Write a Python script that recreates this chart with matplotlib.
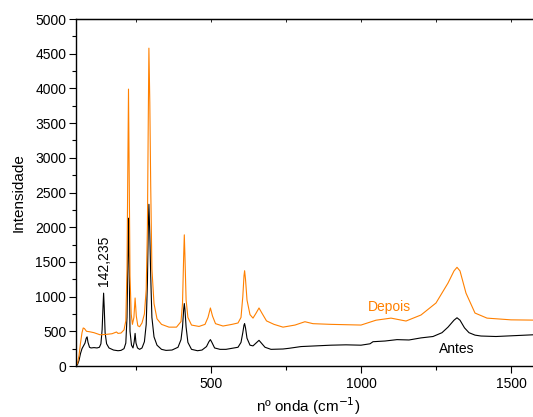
import matplotlib

matplotlib.use("Agg")

import numpy as np
import matplotlib.pyplot as plt
from matplotlib.ticker import MultipleLocator

plt.rcParams["font.family"] = ["Liberation Sans", "DejaVu Sans"]

# Raman spectrum, before treatment (Antes)
antes_x = [50, 55, 60, 65, 70, 75, 80, 84, 87, 90, 95, 100, 110, 120, 128, 133, 137,
           140, 142, 144, 147, 152, 160, 175, 190, 200, 210, 216, 220, 223, 225, 227,
           230, 235, 240, 244, 247, 250, 255, 262, 270, 278, 284, 288, 291, 293, 296,
           299, 303, 310, 320, 335, 350, 370, 390, 400, 405, 409, 411, 413, 417, 423,
           435, 455, 470, 485, 493, 498, 503, 512, 530, 550, 570, 590, 600, 606, 610,
           612, 615, 620, 630, 640, 650, 660, 668, 680, 700, 740, 760, 800, 850, 900,
           950, 1000, 1030, 1040, 1080, 1120, 1160, 1200, 1240, 1270, 1290, 1310, 1320,
           1330, 1345, 1360, 1380, 1400, 1450, 1500, 1600]
antes_y = [0, 20, 80, 180, 250, 290, 330, 400, 420, 340, 270, 260, 265, 260, 270, 320, 520,
           850, 1050, 850, 480, 320, 260, 230, 220, 225, 250, 330, 700, 1600, 2130, 1500,
           500, 300, 260, 350, 470, 330, 260, 240, 260, 350, 600, 1200, 2000, 2330, 1900,
           1300, 700, 420, 300, 240, 225, 230, 270, 380, 560, 820, 900, 820, 560, 340,
           240, 220, 230, 280, 350, 380, 340, 260, 240, 240, 255, 270, 340, 480, 590,
           610, 550, 400, 300, 290, 330, 370, 330, 270, 240, 245, 255, 280, 290, 300,
           305, 300, 320, 350, 360, 380, 375, 405, 425, 480, 560, 660, 695,
           660, 550, 480, 445, 432, 425, 435, 455]

# Raman spectrum, after treatment (Depois)
depois_x = [50, 55, 60, 65, 70, 74, 78, 85, 95, 110, 130, 150, 170, 185, 190, 200, 210,
            216, 220, 223, 225, 227, 230, 234, 238, 243, 247, 251, 256, 262, 270, 278,
            284, 288, 291, 293, 296, 299, 303, 310, 320, 335, 360, 385, 400, 405, 409,
            411, 413, 417, 423, 435, 460, 480, 490, 498, 505, 515, 540, 570, 590, 600,
            606, 610, 612, 615, 620, 630, 640, 650, 660, 670, 685, 710, 740, 780, 813,
            840, 900, 950, 1000, 1050, 1100, 1150, 1200, 1250, 1290, 1310, 1320, 1330,
            1350, 1380, 1420, 1500, 1600]
depois_y = [0, 40, 150, 330, 480, 548, 540, 500, 494, 480, 450, 455, 465, 490, 470, 475, 520,
            650, 1400, 3000, 3990, 2900, 1300, 750, 600, 700, 980, 720, 580, 566, 620, 750,
            1100, 2000, 3600, 4580, 3800, 2600, 1400, 900, 680, 600, 560, 560, 640, 900,
            1600, 1890, 1600, 950, 700, 590, 570, 600, 700, 836, 720, 610, 576, 600, 620,
            700, 1000, 1300, 1373, 1250, 950, 740, 690, 760, 836, 760, 650, 600, 560, 590,
            638, 610, 600, 595, 590, 660, 690, 648, 735, 908, 1195, 1370, 1422, 1370,
            1050, 763, 690, 665, 660]

x_ticks = [500, 1000, 1500]
y_ticks = [0, 500, 1000, 1500, 2000, 2500, 3000, 3500, 4000, 4500, 5000]

orange = "#FF8000"

fig = plt.figure(figsize=(5.33, 4.17), dpi=100)
ax = fig.add_axes([0.1426, 0.1223, 0.8724, 0.8321])

ax.plot(antes_x, antes_y, color="black", lw=0.8)
ax.plot(depois_x, depois_y, color=orange, lw=0.8)

ax.set_xlim(50, 1600)
ax.set_ylim(0, 5000)
ax.set_xticks(x_ticks)
ax.set_yticks(y_ticks)
ax.xaxis.set_minor_locator(MultipleLocator(250))
ax.yaxis.set_minor_locator(MultipleLocator(250))
ax.tick_params(which="major", direction="out", length=5, width=0.8, labelsize=10, pad=2)
ax.tick_params(which="minor", direction="out", length=3, width=0.8)
ax.tick_params(axis="x", which="major", pad=3)

top = ax.secondary_xaxis("top")
top.set_xticks(x_ticks)
top.xaxis.set_minor_locator(MultipleLocator(250))
top.tick_params(which="both", direction="in", length=2, width=0.6, labeltop=False)

for s in ax.spines.values():
    s.set_linewidth(1.0)

ax.set_ylabel("Intensidade", fontsize=11, labelpad=7)
ax.set_xlabel("nº onda (cm$^{-1}$)", fontsize=11, labelpad=3)

ax.text(142, 1150, "142,235", rotation=90, ha="center", va="bottom", fontsize=10)
ax.text(1095, 850, "Depois", color=orange, ha="center", va="center", fontsize=10)
ax.text(1320, 245, "Antes", color="black", ha="center", va="center", fontsize=10)

fig.savefig("out.png", dpi=100)
